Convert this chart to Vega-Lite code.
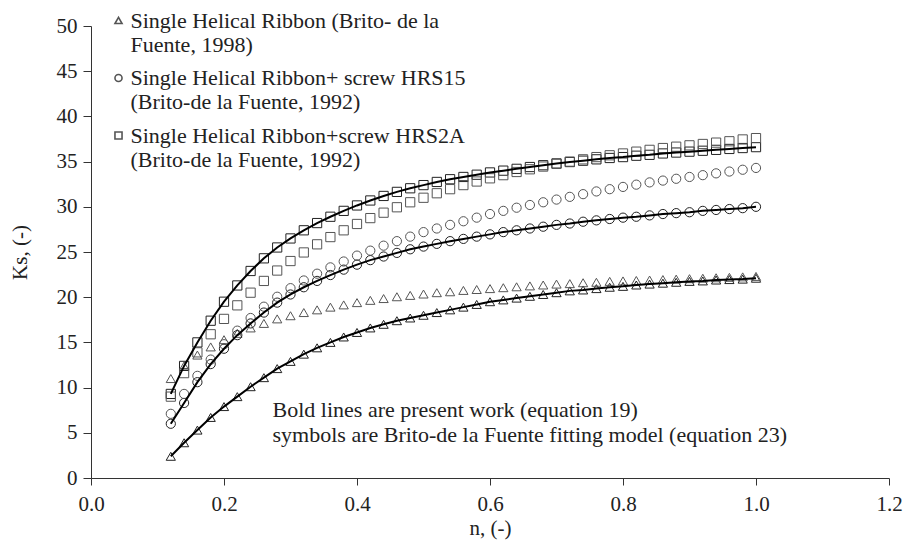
{
  "$schema": "https://vega.github.io/schema/vega-lite/v6.json",
  "width": 798,
  "height": 452,
  "autosize": {"type": "none"},
  "padding": {"left": 91, "top": 26, "right": 15, "bottom": 63},
  "background": "white",
  "config": {
    "view": {"stroke": null},
    "font": "'Liberation Serif', 'Times New Roman', Times, serif",
    "axis": {
      "grid": false,
      "domainColor": "#333",
      "tickColor": "#333",
      "labelFont": "'Liberation Serif', 'Times New Roman', Times, serif",
      "labelFontSize": 21,
      "labelColor": "#222",
      "titleFont": "'Liberation Serif', 'Times New Roman', Times, serif",
      "titleFontSize": 21,
      "titleFontWeight": "normal",
      "titleColor": "#222",
      "labelFlush": false
    }
  },
  "layer": [
    {
      "data": {
        "values": [
          {"n": 0.12, "SHR_pw": 2.4, "SHR_bf": 11.0, "HRS15_pw": 6.0, "HRS15_bf": 7.1, "HRS2A_pw": 9.3, "HRS2A_bf": 9.0},
          {"n": 0.14, "SHR_pw": 3.9, "SHR_bf": 12.4, "HRS15_pw": 8.3, "HRS15_bf": 9.3, "HRS2A_pw": 12.4, "HRS2A_bf": 11.6},
          {"n": 0.16, "SHR_pw": 5.3, "SHR_bf": 13.6, "HRS15_pw": 10.6, "HRS15_bf": 11.3, "HRS2A_pw": 15.0, "HRS2A_bf": 13.9},
          {"n": 0.18, "SHR_pw": 6.7, "SHR_bf": 14.5, "HRS15_pw": 12.6, "HRS15_bf": 13.1, "HRS2A_pw": 17.4, "HRS2A_bf": 15.9},
          {"n": 0.20, "SHR_pw": 7.9, "SHR_bf": 15.3, "HRS15_pw": 14.3, "HRS15_bf": 14.8, "HRS2A_pw": 19.5, "HRS2A_bf": 17.6},
          {"n": 0.22, "SHR_pw": 9.0, "SHR_bf": 16.0, "HRS15_pw": 15.8, "HRS15_bf": 16.3, "HRS2A_pw": 21.3, "HRS2A_bf": 19.1},
          {"n": 0.24, "SHR_pw": 10.1, "SHR_bf": 16.6, "HRS15_pw": 17.1, "HRS15_bf": 17.7, "HRS2A_pw": 22.9, "HRS2A_bf": 20.5},
          {"n": 0.26, "SHR_pw": 11.1, "SHR_bf": 17.1, "HRS15_pw": 18.3, "HRS15_bf": 18.95, "HRS2A_pw": 24.3, "HRS2A_bf": 21.8},
          {"n": 0.28, "SHR_pw": 12.1, "SHR_bf": 17.6, "HRS15_pw": 19.4, "HRS15_bf": 20.05, "HRS2A_pw": 25.5, "HRS2A_bf": 22.95},
          {"n": 0.30, "SHR_pw": 12.9, "SHR_bf": 17.95, "HRS15_pw": 20.3, "HRS15_bf": 21.0, "HRS2A_pw": 26.5, "HRS2A_bf": 24.0},
          {"n": 0.32, "SHR_pw": 13.7, "SHR_bf": 18.3, "HRS15_pw": 21.1, "HRS15_bf": 21.85, "HRS2A_pw": 27.4, "HRS2A_bf": 24.95},
          {"n": 0.34, "SHR_pw": 14.4, "SHR_bf": 18.6, "HRS15_pw": 21.8, "HRS15_bf": 22.6, "HRS2A_pw": 28.2, "HRS2A_bf": 25.85},
          {"n": 0.36, "SHR_pw": 15.0, "SHR_bf": 18.9, "HRS15_pw": 22.45, "HRS15_bf": 23.3, "HRS2A_pw": 28.9, "HRS2A_bf": 26.65},
          {"n": 0.38, "SHR_pw": 15.6, "SHR_bf": 19.15, "HRS15_pw": 23.05, "HRS15_bf": 23.95, "HRS2A_pw": 29.55, "HRS2A_bf": 27.4},
          {"n": 0.40, "SHR_pw": 16.1, "SHR_bf": 19.4, "HRS15_pw": 23.6, "HRS15_bf": 24.6, "HRS2A_pw": 30.15, "HRS2A_bf": 28.1},
          {"n": 0.42, "SHR_pw": 16.6, "SHR_bf": 19.65, "HRS15_pw": 24.1, "HRS15_bf": 25.15, "HRS2A_pw": 30.7, "HRS2A_bf": 28.75},
          {"n": 0.44, "SHR_pw": 17.0, "SHR_bf": 19.85, "HRS15_pw": 24.5, "HRS15_bf": 25.7, "HRS2A_pw": 31.2, "HRS2A_bf": 29.35},
          {"n": 0.46, "SHR_pw": 17.4, "SHR_bf": 20.05, "HRS15_pw": 24.9, "HRS15_bf": 26.2, "HRS2A_pw": 31.65, "HRS2A_bf": 29.95},
          {"n": 0.48, "SHR_pw": 17.7, "SHR_bf": 20.2, "HRS15_pw": 25.3, "HRS15_bf": 26.7, "HRS2A_pw": 32.05, "HRS2A_bf": 30.5},
          {"n": 0.50, "SHR_pw": 18.0, "SHR_bf": 20.35, "HRS15_pw": 25.6, "HRS15_bf": 27.2, "HRS2A_pw": 32.4, "HRS2A_bf": 31.0},
          {"n": 0.52, "SHR_pw": 18.3, "SHR_bf": 20.5, "HRS15_pw": 25.9, "HRS15_bf": 27.6, "HRS2A_pw": 32.75, "HRS2A_bf": 31.5},
          {"n": 0.54, "SHR_pw": 18.6, "SHR_bf": 20.6, "HRS15_pw": 26.2, "HRS15_bf": 28.0, "HRS2A_pw": 33.05, "HRS2A_bf": 31.95},
          {"n": 0.56, "SHR_pw": 18.9, "SHR_bf": 20.75, "HRS15_pw": 26.45, "HRS15_bf": 28.4, "HRS2A_pw": 33.3, "HRS2A_bf": 32.4},
          {"n": 0.58, "SHR_pw": 19.2, "SHR_bf": 20.85, "HRS15_pw": 26.7, "HRS15_bf": 28.8, "HRS2A_pw": 33.55, "HRS2A_bf": 32.8},
          {"n": 0.60, "SHR_pw": 19.5, "SHR_bf": 20.95, "HRS15_pw": 26.95, "HRS15_bf": 29.2, "HRS2A_pw": 33.8, "HRS2A_bf": 33.15},
          {"n": 0.62, "SHR_pw": 19.7, "SHR_bf": 21.05, "HRS15_pw": 27.2, "HRS15_bf": 29.55, "HRS2A_pw": 34.0, "HRS2A_bf": 33.5},
          {"n": 0.64, "SHR_pw": 19.9, "SHR_bf": 21.15, "HRS15_pw": 27.4, "HRS15_bf": 29.9, "HRS2A_pw": 34.2, "HRS2A_bf": 33.85},
          {"n": 0.66, "SHR_pw": 20.1, "SHR_bf": 21.25, "HRS15_pw": 27.6, "HRS15_bf": 30.2, "HRS2A_pw": 34.4, "HRS2A_bf": 34.15},
          {"n": 0.68, "SHR_pw": 20.3, "SHR_bf": 21.35, "HRS15_pw": 27.8, "HRS15_bf": 30.5, "HRS2A_pw": 34.6, "HRS2A_bf": 34.45},
          {"n": 0.70, "SHR_pw": 20.5, "SHR_bf": 21.45, "HRS15_pw": 28.0, "HRS15_bf": 30.8, "HRS2A_pw": 34.8, "HRS2A_bf": 34.75},
          {"n": 0.72, "SHR_pw": 20.7, "SHR_bf": 21.5, "HRS15_pw": 28.15, "HRS15_bf": 31.1, "HRS2A_pw": 34.95, "HRS2A_bf": 35.0},
          {"n": 0.74, "SHR_pw": 20.8, "SHR_bf": 21.6, "HRS15_pw": 28.35, "HRS15_bf": 31.4, "HRS2A_pw": 35.1, "HRS2A_bf": 35.25},
          {"n": 0.76, "SHR_pw": 20.95, "SHR_bf": 21.65, "HRS15_pw": 28.5, "HRS15_bf": 31.7, "HRS2A_pw": 35.25, "HRS2A_bf": 35.5},
          {"n": 0.78, "SHR_pw": 21.1, "SHR_bf": 21.75, "HRS15_pw": 28.65, "HRS15_bf": 31.95, "HRS2A_pw": 35.4, "HRS2A_bf": 35.7},
          {"n": 0.80, "SHR_pw": 21.2, "SHR_bf": 21.8, "HRS15_pw": 28.8, "HRS15_bf": 32.2, "HRS2A_pw": 35.5, "HRS2A_bf": 35.9},
          {"n": 0.82, "SHR_pw": 21.35, "SHR_bf": 21.85, "HRS15_pw": 28.9, "HRS15_bf": 32.45, "HRS2A_pw": 35.65, "HRS2A_bf": 36.1},
          {"n": 0.84, "SHR_pw": 21.45, "SHR_bf": 21.9, "HRS15_pw": 29.05, "HRS15_bf": 32.7, "HRS2A_pw": 35.75, "HRS2A_bf": 36.3},
          {"n": 0.86, "SHR_pw": 21.55, "SHR_bf": 21.95, "HRS15_pw": 29.2, "HRS15_bf": 32.9, "HRS2A_pw": 35.9, "HRS2A_bf": 36.5},
          {"n": 0.88, "SHR_pw": 21.65, "SHR_bf": 22.0, "HRS15_pw": 29.3, "HRS15_bf": 33.1, "HRS2A_pw": 36.0, "HRS2A_bf": 36.65},
          {"n": 0.90, "SHR_pw": 21.75, "SHR_bf": 22.05, "HRS15_pw": 29.4, "HRS15_bf": 33.3, "HRS2A_pw": 36.1, "HRS2A_bf": 36.8},
          {"n": 0.92, "SHR_pw": 21.8, "SHR_bf": 22.1, "HRS15_pw": 29.55, "HRS15_bf": 33.5, "HRS2A_pw": 36.2, "HRS2A_bf": 36.95},
          {"n": 0.94, "SHR_pw": 21.9, "SHR_bf": 22.15, "HRS15_pw": 29.65, "HRS15_bf": 33.7, "HRS2A_pw": 36.3, "HRS2A_bf": 37.1},
          {"n": 0.96, "SHR_pw": 21.95, "SHR_bf": 22.2, "HRS15_pw": 29.75, "HRS15_bf": 33.9, "HRS2A_pw": 36.4, "HRS2A_bf": 37.25},
          {"n": 0.98, "SHR_pw": 22.0, "SHR_bf": 22.25, "HRS15_pw": 29.85, "HRS15_bf": 34.1, "HRS2A_pw": 36.5, "HRS2A_bf": 37.45},
          {"n": 1.00, "SHR_pw": 22.1, "SHR_bf": 22.3, "HRS15_pw": 30.0, "HRS15_bf": 34.3, "HRS2A_pw": 36.6, "HRS2A_bf": 37.6}
        ]
      },
      "transform": [
        {"fold": ["SHR_pw", "SHR_bf", "HRS15_pw", "HRS15_bf", "HRS2A_pw", "HRS2A_bf"], "as": ["series", "ks"]}
      ],
      "layer": [
        {
          "mark": {"type": "point", "filled": false, "size": 85, "strokeWidth": 1, "opacity": 1},
          "encoding": {
            "x": {
              "field": "n", "type": "quantitative",
              "scale": {"domain": [0, 1.2], "nice": false, "zero": false},
              "axis": {
                "title": "n, (-)",
                "values": [0, 0.2, 0.4, 0.6, 0.8, 1.0, 1.2],
                "format": ".1f",
                "tickSize": 7,
                "labelPadding": 8,
                "titlePadding": 3,
                "labelFont": "'Liberation Serif', 'Times New Roman', Times, serif",
                "titleFont": "'Liberation Serif', 'Times New Roman', Times, serif"
              }
            },
            "y": {
              "field": "ks", "type": "quantitative",
              "scale": {"domain": [0, 50], "nice": false},
              "axis": {
                "title": "Ks, (-)",
                "values": [0, 5, 10, 15, 20, 25, 30, 35, 40, 45, 50],
                "format": "d",
                "tickSize": 8,
                "labelPadding": 6,
                "titlePadding": 26,
                "labelFont": "'Liberation Serif', 'Times New Roman', Times, serif",
                "titleFont": "'Liberation Serif', 'Times New Roman', Times, serif"
              }
            },
            "shape": {
              "field": "series", "type": "nominal",
              "scale": {
                "domain": ["SHR_pw", "SHR_bf", "HRS15_pw", "HRS15_bf", "HRS2A_pw", "HRS2A_bf"],
                "range": ["triangle-up", "triangle-up", "circle", "circle", "square", "square"]
              },
              "legend": {
                "orient": "none",
                "legendX": 16.5,
                "legendY": -16.5,
                "title": null,
                "padding": 0,
                "values": ["SHR_bf", "HRS15_bf", "HRS2A_bf"],
                "labelExpr": "datum.value == 'SHR_bf' ? ['Single Helical Ribbon (Brito- de la', 'Fuente, 1998)'] : datum.value == 'HRS15_bf' ? ['Single Helical Ribbon+ screw HRS15', '(Brito-de la Fuente, 1992)'] : ['Single Helical Ribbon+screw HRS2A', '(Brito-de la Fuente, 1992)']",
                "labelFont": "'Liberation Serif', 'Times New Roman', Times, serif",
                "labelFontSize": 22,
                "labelColor": "#222",
                "labelLimit": 700,
                "labelOffset": 1,
                "symbolSize": 50,
                "symbolStrokeWidth": 1.6,
                "symbolStrokeColor": "#222",
                "rowPadding": 11.5,
                "encode": {"labels": {"update": {"lineHeight": {"value": 23}}}}
              }
            },
            "stroke": {
              "field": "series", "type": "nominal",
              "scale": {
                "domain": ["SHR_pw", "SHR_bf", "HRS15_pw", "HRS15_bf", "HRS2A_pw", "HRS2A_bf"],
                "range": ["#222", "#555", "#222", "#555", "#222", "#555"]
              },
              "legend": null
            }
          }
        },
        {
          "transform": [{"filter": {"field": "series", "oneOf": ["SHR_pw", "HRS15_pw", "HRS2A_pw"]}}],
          "mark": {"type": "line", "color": "#000", "strokeWidth": 2},
          "encoding": {
            "x": {"field": "n", "type": "quantitative"},
            "y": {"field": "ks", "type": "quantitative"},
            "detail": {"field": "series", "type": "nominal"}
          }
        }
      ]
    },
    {
      "data": {"values": [{"note": "annotation"}]},
      "mark": {
        "type": "text",
        "align": "left",
        "baseline": "middle",
        "font": "'Liberation Serif', 'Times New Roman', Times, serif",
        "fontSize": 22,
        "lineHeight": 25,
        "color": "#222",
        "text": ["Bold lines are present work (equation 19)", "symbols are Brito-de la Fuente fitting model (equation 23)"]
      },
      "encoding": {
        "x": {"datum": 0.273, "type": "quantitative"},
        "y": {"datum": 7.5, "type": "quantitative"}
      }
    }
  ]
}
